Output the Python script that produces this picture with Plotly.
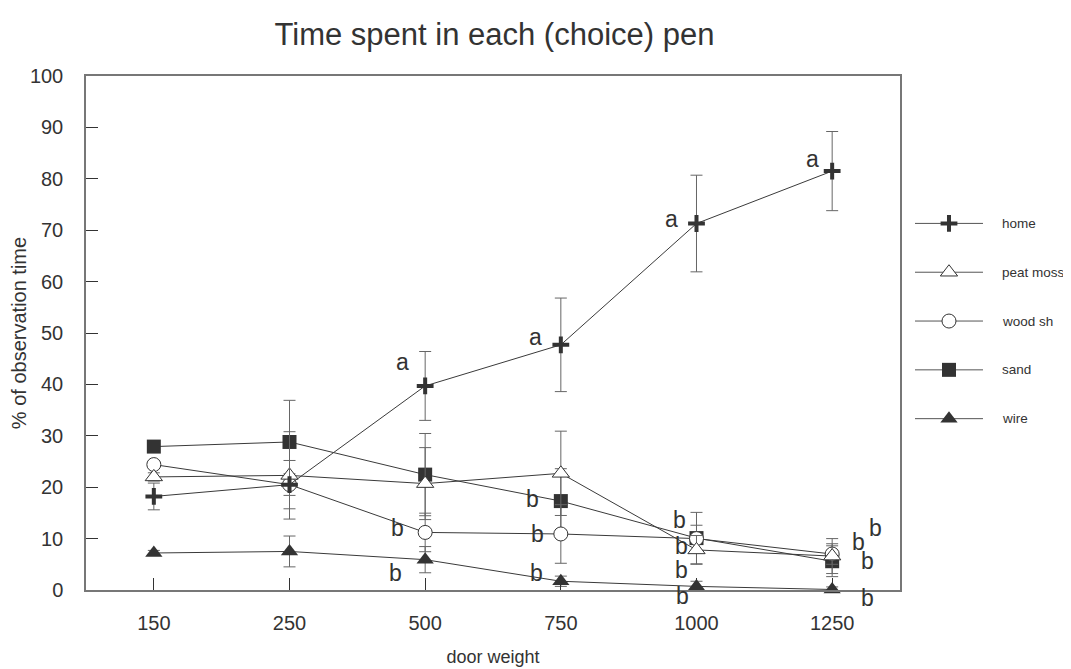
import plotly.graph_objects as go

# ---------------- data ----------------
categories = ['150', '250', '500', '750', '1000', '1250']

home = [18.2, 20.5, 39.7, 47.7, 71.3, 81.5]
home_err = [2.6, 4.7, 6.7, 9.1, 9.4, 7.7]

peat_moss = [22.0, 22.3, 20.7, 22.7, 7.8, 6.6]
peat_moss_err = [0.8, 8.5, 7.0, 8.2, 2.8, 3.4]

wood_sh = [24.4, 20.5, 11.2, 10.9, 10.0, 7.0]
wood_sh_err = [0.6, 2.1, 3.75, 5.7, 2.6, 2.0]

sand = [27.9, 28.8, 22.45, 17.3, 10.1, 5.6]
sand_err = [0.8, 8.1, 8.0, 6.3, 5.0, 3.0]

wire = [7.2, 7.5, 5.9, 1.7, 0.7, 0.1]
wire_err = [0.5, 3.0, 2.55, 1.0, 1.0, 0.5]

series_names = ['home', 'peat moss', 'wood sh', 'sand', 'wire']

# significance letters: (letter, category, value)
letters = ['a', 'a', 'a', 'a',
           'b', 'b', 'b', 'b', 'b',
           'b', 'b', 'b', 'b',
           'b', 'b', 'b', 'b']
letter_cat = ['500', '750', '1000', '1250',
              '500', '500', '750', '750', '750',
              '1000', '1000', '1000', '1000',
              '1250', '1250', '1250', '1250']
letter_val = [44.4, 49.2, 72.1, 83.9,
              12.0, 3.3, 17.8, 10.9, 3.3,
              13.6, 8.5, 3.9, -1.2,
              9.4, 12.0, 5.6, -1.55]

# ---------------- styles ----------------
FONT = 'Liberation Sans, Arial, Helvetica, sans-serif'
DARK = '#333333'
ERR = '#666666'
LINE = '#3a3a3a'
PX_PER_UNIT = 5.16  # plot height 516 px for 0..100

letter_dx = [-23, -25, -25, -20,
             -28, -30, -28, -23, -24,
             -17, -15, -15, -14,
             26, 43, 35, 35]

styles = {
    'home': dict(symbol='cross-thin', size=12, color=DARK, line=dict(color=DARK, width=4)),
    'peat moss': dict(symbol='triangle-up', size=15, color='white', line=dict(color=DARK, width=1)),
    'wood sh': dict(symbol='circle', size=14, color='white', line=dict(color=DARK, width=1)),
    'sand': dict(symbol='square', size=14, color=DARK, line=dict(color=DARK, width=0)),
    'wire': dict(symbol='triangle-up', size=15, color=DARK, line=dict(color=DARK, width=0)),
}

data = {
    'home': (home, home_err),
    'peat moss': (peat_moss, peat_moss_err),
    'wood sh': (wood_sh, wood_sh_err),
    'sand': (sand, sand_err),
    'wire': (wire, wire_err),
}

fig = go.Figure()

draw_order = ['wire', 'sand', 'wood sh', 'peat moss', 'home']
for name in draw_order:
    vals, errs = data[name]
    fig.add_trace(go.Scatter(
        x=categories, y=vals, name=name, mode='lines+markers',
        line=dict(color=LINE, width=1),
        marker=styles[name],
        error_y=dict(type='data', array=errs, visible=True,
                     color=ERR, thickness=1, width=6),
        showlegend=False, cliponaxis=False,
    ))

# ---------------- custom legend (separate small axes) ----------------
for i, name in enumerate(series_names):
    fig.add_trace(go.Scatter(
        x=[0, 1], y=[i, i], mode='lines', xaxis='x2', yaxis='y2',
        line=dict(color='#555555', width=1), showlegend=False, hoverinfo='skip'))
    fig.add_trace(go.Scatter(
        x=[0.5], y=[i], mode='markers', xaxis='x2', yaxis='y2',
        marker=styles[name], showlegend=False, hoverinfo='skip'))

annotations = []
for i, name in enumerate(series_names):
    annotations.append(dict(
        text=name, xref='paper', yref='y2', x=0.9327, y=i,
        xanchor='left', yanchor='middle', showarrow=False,
        font=dict(family=FONT, size=13.5, color=DARK)))

for t, c, v, dx in zip(letters, letter_cat, letter_val, letter_dx):
    # letters below the axis are anchored at 0 and shifted down in pixels
    y_anchor = max(v, 0)
    dy = (v - y_anchor) * PX_PER_UNIT
    annotations.append(dict(
        text=t, x=categories.index(c), y=y_anchor, xref='x', yref='y',
        xshift=dx, yshift=dy,
        showarrow=False, xanchor='center', yanchor='middle',
        font=dict(family=FONT, size=23, color=DARK)))

fig.update_layout(
    width=1063, height=661,
    margin=dict(l=78, r=5, t=68, b=77),
    paper_bgcolor='white', plot_bgcolor='white',
    font=dict(family=FONT, color=DARK),
    title=dict(text='Time spent in each (choice) pen',
               x=0.4168, xref='paper', xanchor='center',
               y=0.961, yref='container', yanchor='middle',
               font=dict(family=FONT, size=31, color=DARK)),
    xaxis=dict(type='category', categoryorder='array', categoryarray=categories,
               range=[-0.5, 5.5], domain=[0, 0.8306],
               showgrid=False, zeroline=False,
               showline=True, linecolor='#777777', linewidth=1.5, mirror=True,
               ticks='inside', ticklen=12, tickcolor=DARK, tickwidth=1,
               ticklabelstandoff=14,
               tickfont=dict(family=FONT, size=20, color=DARK),
               title=dict(text='door weight', standoff=18,
                          font=dict(family=FONT, size=18, color=DARK))),
    yaxis=dict(range=[0, 100], tickvals=list(range(0, 101, 10)),
               showgrid=False, zeroline=False,
               showline=True, linecolor='#777777', linewidth=1.5, mirror=True,
               ticks='inside', ticklen=12, tickcolor=DARK, tickwidth=1,
               ticklabelstandoff=17,
               tickfont=dict(family=FONT, size=20, color=DARK),
               title=dict(text='% of observation time', standoff=0,
                          font=dict(family=FONT, size=20, color=DARK))),
    xaxis2=dict(domain=[0.8459, 0.9153], range=[0, 1], anchor='y2',
                visible=False, fixedrange=True),
    yaxis2=dict(domain=[0, 1], range=[7.51, -3.02], anchor='x2',
                visible=False, fixedrange=True),
    annotations=annotations,
)

fig.write_html('out.html')
